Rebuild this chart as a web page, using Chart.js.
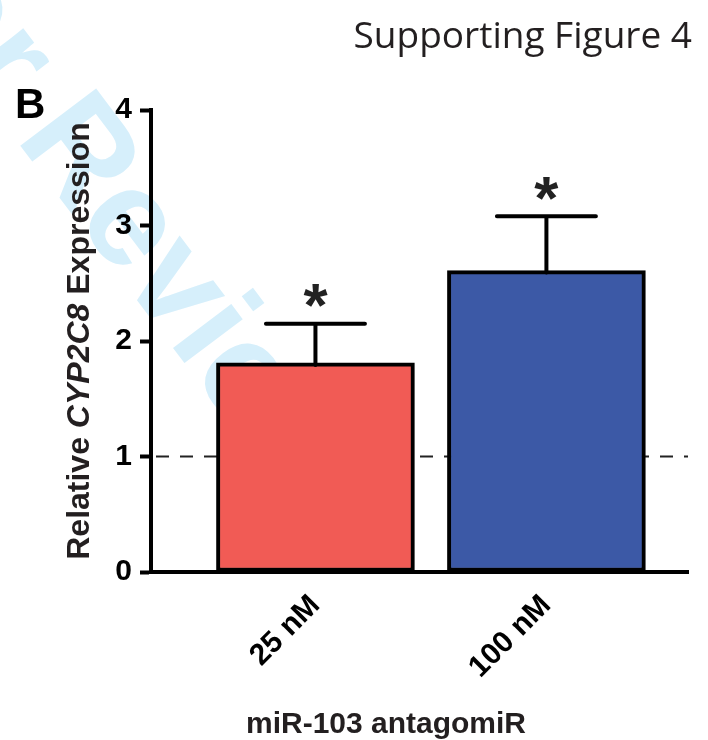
<!DOCTYPE html>
<html>
<head>
<meta charset="utf-8">
<script src="https://cdn.jsdelivr.net/npm/chart.js@4.4.0/dist/chart.umd.min.js"></script>
<style>
  html, body { margin: 0; padding: 0; background: #fff; }
</style>
</head>
<body>
<canvas id="grafico" width="708" height="740"></canvas>
<script>
// Datos
const categorias = ['25 nM', '100 nM'];
const expresion = [1.81, 2.61];
const errorSuperior = [2.15, 3.08];
const significancia = ['*', '*'];
const ticksY = [0, 1, 2, 3, 4];
const lineaBase = 1;
const colores = ['#f15b55', '#3c59a6'];

const ctx = document.getElementById("grafico").getContext("2d");
const fuente = "'Liberation Sans', Arial, sans-serif";

// Marca de agua y fondo
const fondo = {
  id: 'fondo',
  beforeDraw(chart) {
    const c = chart.ctx;
    c.save();
    c.fillStyle = '#fff';
    c.fillRect(0, 0, chart.width, chart.height);
    c.translate(-142, -70);
    c.rotate(53 * Math.PI / 180);
    c.fillStyle = '#d6effb';
    c.font = "bold 138px " + fuente;
    c.textBaseline = 'alphabetic';
    c.fillText('For Review', 0, 0);
    c.restore();
  }
};

// Línea punteada de referencia (detrás de las barras)
const referencia = {
  id: 'referencia',
  beforeDatasetsDraw(chart) {
    const c = chart.ctx;
    const y = chart.scales.y.getPixelForValue(lineaBase);
    c.save();
    c.strokeStyle = '#222';
    c.lineWidth = 2;
    c.setLineDash([13, 11]);
    c.beginPath();
    c.moveTo(chart.chartArea.left + 5, y);
    c.lineTo(chart.chartArea.right, y);
    c.stroke();
    c.restore();
  }
};

// Barras de error y asteriscos
const errores = {
  id: 'errores',
  afterDatasetsDraw(chart) {
    const c = chart.ctx;
    const meta = chart.getDatasetMeta(0);
    const ys = chart.scales.y;
    c.save();
    c.strokeStyle = '#000';
    c.lineWidth = 4;
    c.lineCap = 'round';
    meta.data.forEach((barra, i) => {
      const x = barra.x;
      const yTop = ys.getPixelForValue(expresion[i]);
      const yErr = ys.getPixelForValue(errorSuperior[i]);
      const mitad = barra.width / 4;
      c.beginPath();
      c.moveTo(x, yTop + 2);
      c.lineTo(x, yErr);
      c.moveTo(x - mitad, yErr);
      c.lineTo(x + mitad, yErr);
      c.stroke();

      c.fillStyle = '#222';
      c.font = "bold 62px " + fuente;
      c.textAlign = 'center';
      c.textBaseline = 'alphabetic';
      const m = c.measureText(significancia[i]);
      const centro = yErr - 28;
      const base = centro + (m.actualBoundingBoxAscent - m.actualBoundingBoxDescent) / 2;
      c.fillText(significancia[i], x, base);
    });
    c.restore();
  }
};

// Textos: letra del panel, título, títulos de ejes
const textos = {
  id: 'textos',
  afterDraw(chart) {
    const c = chart.ctx;
    const area = chart.chartArea;
    c.save();
    c.fillStyle = '#000';
    c.textBaseline = 'alphabetic';

    c.font = "bold 42px " + fuente;
    c.textAlign = 'left';
    c.fillText('B', 15, 118);

    c.fillStyle = '#231f20';
    c.font = "37px 'Open Sans', 'Noto Sans', sans-serif";
    c.textAlign = 'right';
    c.fillText('Supporting Figure 4', 692, 48, 340);

    // Título eje X
    c.fillStyle = '#231f20';
    c.font = "bold 30px " + fuente;
    c.textAlign = 'center';
    c.fillText('miR-103 antagomiR', 386, 733);

    // Título eje Y con CYP2C8 en cursiva
    const partes = [
      ['Relative ', "bold 32px " + fuente],
      ['CYP2C8', "italic bold 32px " + fuente],
      [' Expression', "bold 32px " + fuente]
    ];
    let total = 0;
    partes.forEach(p => { c.font = p[1]; total += c.measureText(p[0]).width; });
    c.translate(89, (area.top + area.bottom) / 2);
    c.rotate(-Math.PI / 2);
    c.textAlign = 'left';
    let x = -total / 2;
    partes.forEach(p => {
      c.font = p[1];
      c.fillText(p[0], x, 0);
      x += c.measureText(p[0]).width;
    });
    c.restore();
  }
};

const grafico = new Chart(ctx, {
  type: 'bar',
  data: {
    datasets: [{
      data: expresion.map((v, i) => ({ x: i + 1, y: v })),
      backgroundColor: colores,
      borderColor: '#000',
      borderWidth: 4,
      borderSkipped: false,
      barThickness: 198
    }]
  },
  options: {
    responsive: false,
    animation: false,
    layout: { padding: { top: 110, right: 20, left: 0, bottom: 0 } },
    plugins: {
      legend: { display: false },
      tooltip: { enabled: false }
    },
    scales: {
      x: {
        type: 'linear',
        offset: false,
        min: 0.288,
        max: 2.613,
        afterBuildTicks: (eje) => { eje.ticks = categorias.map((_, i) => ({ value: i + 1 })); },
        afterFit: (eje) => { eje.height = 168; },
        ticks: {
          callback: (v) => categorias[v - 1],
          color: '#000',
          font: { family: fuente, size: 30, weight: 'bold' },
          minRotation: 45,
          maxRotation: 45,
          padding: 16,
          autoSkip: false
        },
        grid: { drawOnChartArea: false, drawTicks: false },
        border: { display: true, color: '#000', width: 4 }
      },
      y: {
        min: 0,
        max: 4,
        afterBuildTicks: (eje) => { eje.ticks = ticksY.map(v => ({ value: v })); },
        afterFit: (eje) => { eje.width = 151; },
        ticks: {
          color: '#000',
          font: { family: fuente, size: 30, weight: 'bold' },
          padding: 8
        },
        grid: {
          drawOnChartArea: false,
          drawTicks: true,
          tickLength: 11,
          tickWidth: 4,
          tickColor: '#000'
        },
        border: { display: true, color: '#000', width: 4 }
      }
    }
  },
  plugins: [fondo, referencia, errores, textos]
});
</script>
</body>
</html>
